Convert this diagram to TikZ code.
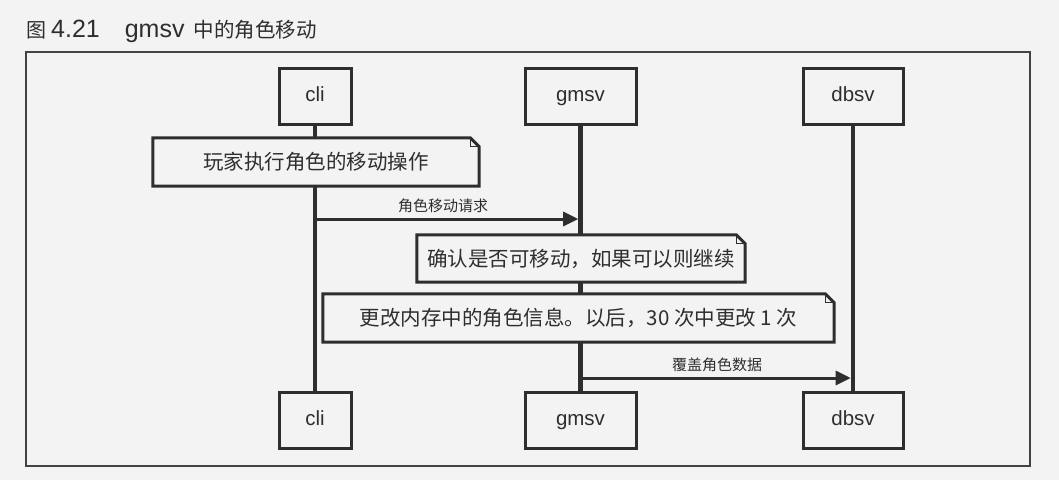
\documentclass[tikz,border=0pt]{standalone}
\usepackage{fontspec}
\setmainfont{Liberation Sans}
\newfontfamily\cjk{Noto Sans CJK SC}
\usetikzlibrary{arrows.meta}
\definecolor{bg}{HTML}{F3F3F3}
\definecolor{ink}{HTML}{2E2E2E}
\begin{document}
\begin{tikzpicture}[x=1pt,y=-1pt,
  actor/.style={draw=ink, line width=3pt, fill=bg, minimum height=56pt, inner sep=0pt,
    text height=15pt, text depth=4pt,
    font=\fontsize{20.5}{24}\selectfont, text=ink},
  notebox/.style={inner sep=0pt, minimum height=48pt, font=\cjk\fontsize{20.5}{24}\selectfont, text=ink},
  noteline/.style={draw=ink, line width=3pt, fill=bg, line join=miter},
  foldline/.style={draw=ink, line width=1.2pt},
  lifeline/.style={draw=ink, line width=4.6pt},
  msg/.style={draw=ink, line width=3pt, -{Triangle[length=15pt,width=14pt]}, shorten >=2.3pt},
  lbl/.style={font=\cjk\fontsize{15}{18}\selectfont, text=ink},
  frame/.style={draw=ink!90, line width=1.6pt, inner sep=0pt}]
\useasboundingbox (0,0) rectangle (1059,480);
\fill[bg] (0,0) rectangle (1059,480);
% title
\node[anchor=west, inner sep=0pt, text=ink, font=\fontsize{25}{28}\selectfont] (title) at (26,31)
  {{\cjk\fontsize{20}{24}\selectfont 图}\hspace{5pt}4.21\hspace{25pt}gmsv\hspace{9pt}{\cjk\fontsize{20.5}{24}\selectfont 中的角色移动}};
% frame
\node[frame, minimum width=1004pt, minimum height=414pt] (frame) at (528,259) {};
% actors
\node[actor, minimum width=72pt]  (cliT) at (315,96) {cli};
\node[actor, minimum width=111pt] (gmT)  at (580.5,96) {gmsv};
\node[actor, minimum width=100pt] (dbT)  at (853,96) {dbsv};
\node[actor, minimum width=72pt]  (cliB) at (315,420) {cli};
\node[actor, minimum width=111pt] (gmB)  at (580.5,420) {gmsv};
\node[actor, minimum width=100pt] (dbB)  at (853,420) {dbsv};
% lifelines
\draw[lifeline] (cliT.south) -- (cliB.north);
\draw[lifeline] (gmT.south) -- (gmB.north);
\draw[lifeline] (dbT.south) -- (dbB.north);
% notes
\node[notebox, minimum width=326pt] (n1) at (316,162) {};
\node[notebox, minimum width=328pt, minimum height=47pt] (n2) at (581,258.5) {};
\node[notebox, minimum width=511pt] (n3) at (578.5,318) {};
\foreach \n in {n1,n2,n3}{
  \draw[noteline] (\n.north west) -- ([xshift=-9pt]\n.north east) -- ([yshift=-9pt]\n.north east)
     -- (\n.south east) -- (\n.south west) -- cycle;
  \draw[foldline] ([xshift=-9pt]\n.north east) -- ([xshift=-9pt,yshift=-9pt]\n.north east)
     -- ([yshift=-9pt]\n.north east);
}
\node[notebox] (t1) at (n1) {玩家执行角色的移动操作};
\node[notebox] (t2) at (n2) {确认是否可移动，如果可以则继续};
\node[notebox] (t3) at (n3) {更改内存中的角色信息。以后，30 次中更改 1 次};
% messages
\coordinate (m1) at (0,219);
\coordinate (m2) at (0,378);
\draw[msg] (cliT |- m1) -- (gmT |- m1);
\draw[msg] (gmT |- m2) -- (dbT |- m2);
\node[lbl] (l1) at (443,206) {角色移动请求};
\node[lbl] (l2) at (717,365) {覆盖角色数据};
\end{tikzpicture}
\end{document}
